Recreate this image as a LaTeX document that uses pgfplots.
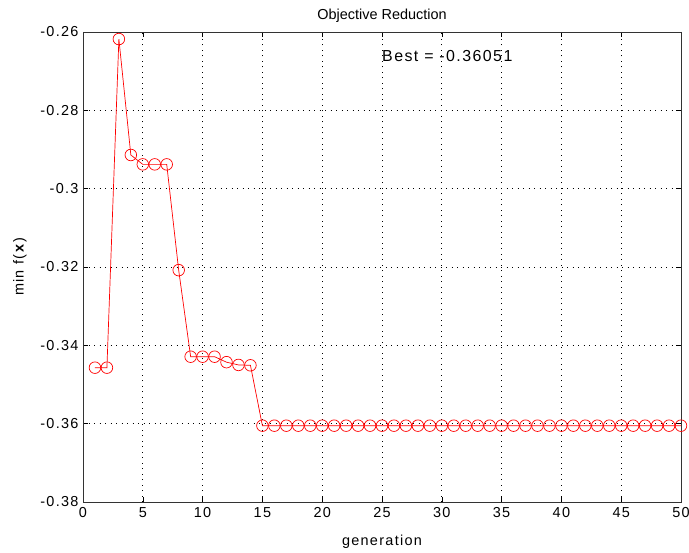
\documentclass[border=0pt]{standalone}
\usepackage{fontspec}
\setmainfont{Liberation Sans}
\newfontfamily\wide[LetterSpace=9]{Liberation Sans}
\usepackage{pgfplots}
\pgfplotsset{compat=1.18}
\begin{document}
\begin{tikzpicture}
\begin{axis}[
  name=ax,
  scale only axis,
  width=598bp, height=470bp,
  xmin=0, xmax=50, ymin=-0.38, ymax=-0.26,
  xtick={0,5,...,50},
  ytick={-0.38,-0.36,-0.34,-0.32,-0.3,-0.28,-0.26},
  yticklabels={-0.38,-0.36,-0.34,-0.32,-0.3,-0.28,-0.26},
  /pgf/number format/assume math mode=true,
  tick align=inside,
  major tick length=5bp,
  tick style={black, line width=0.6pt},
  axis line style={black!80, line width=0.8pt},
  grid=major,
  major grid style={black, line width=0.7pt, dash pattern=on 1bp off 4.5bp},
  ticklabel style={font=\wide\fontsize{14.5}{16}\selectfont},
  xticklabel style={yshift=-2bp},
  yticklabel style={xshift=-1bp},
  label style={font=\wide\fontsize{14.5}{16}\selectfont},
  title style={font=\fontsize{14.5}{16}\selectfont, yshift=0bp},
  title={Objective Reduction},
  xlabel={generation},
  ylabel={min f(\,\textbf{x})},
  xlabel style={yshift=-10bp},
  ylabel style={yshift=7bp},
]
\addplot[red, line width=0.7pt, mark=o, mark size=5.8bp, mark options={solid, line width=0.7pt}]
coordinates {
(1,-0.3457) (2,-0.3457) (3,-0.2618) (4,-0.2914) (5,-0.2938) (6,-0.2938) (7,-0.2938)
(8,-0.3208) (9,-0.3429) (10,-0.3429) (11,-0.3429) (12,-0.3443) (13,-0.3450) (14,-0.3451)
(15,-0.36051) (16,-0.36051) (17,-0.36051) (18,-0.36051) (19,-0.36051) (20,-0.36051)
(21,-0.36051) (22,-0.36051) (23,-0.36051) (24,-0.36051) (25,-0.36051) (26,-0.36051)
(27,-0.36051) (28,-0.36051) (29,-0.36051) (30,-0.36051) (31,-0.36051) (32,-0.36051)
(33,-0.36051) (34,-0.36051) (35,-0.36051) (36,-0.36051) (37,-0.36051) (38,-0.36051)
(39,-0.36051) (40,-0.36051) (41,-0.36051) (42,-0.36051) (43,-0.36051) (44,-0.36051)
(45,-0.36051) (46,-0.36051) (47,-0.36051) (48,-0.36051) (49,-0.36051) (50,-0.36051)
};
\node[anchor=west, inner sep=0pt, font=\wide\fontsize{16}{18}\selectfont] at (axis cs:25,-0.2661) {Best = -0.36051};
\end{axis}
\pgfresetboundingbox
\path ([xshift=-83bp,yshift=-50bp]ax.south west) rectangle ([xshift=8bp,yshift=32bp]ax.north east);
\end{tikzpicture}
\end{document}
